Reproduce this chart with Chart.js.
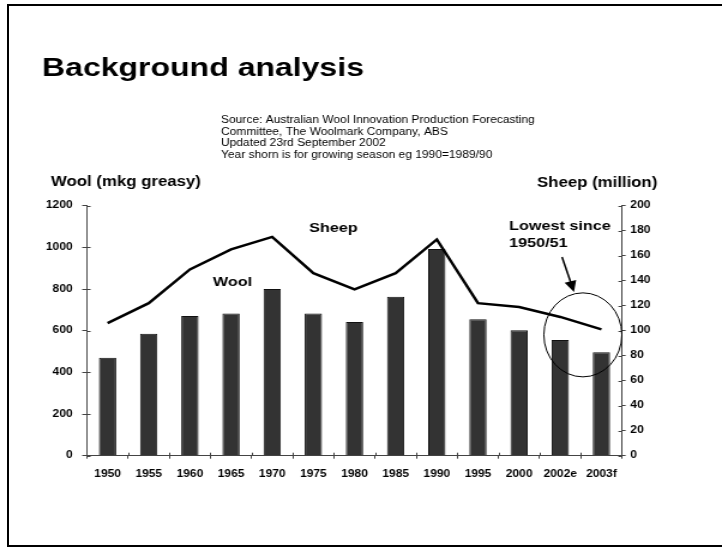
<!DOCTYPE html>
<html>
<head>
<meta charset="utf-8">
<script src="https://cdn.jsdelivr.net/npm/chart.js@4"></script>
<style>
  html, body { margin: 0; padding: 0; background: #fff; overflow: hidden; }
  #frame { position: absolute; left: 7px; top: 4px; width: 740px; height: 539px; border: 2px solid #000; }
  #c { position: absolute; left: 0; top: 0; }
</style>
</head>
<body>
<div id="frame"></div>
<canvas id="c" width="602" height="547" style="width:722px;height:547px"></canvas>
<script>
// data
years = ['1950','1955','1960','1965','1970','1975','1980','1985','1990','1995','2000','2002e','2003f']
wool = [470, 585, 670, 682, 800, 682, 642, 763, 992, 655, 602, 555, 496]      // mkg greasy
sheep = [106, 122, 149, 165, 175, 146, 133, 146, 173, 122, 119, 111, 101]     // million
woolTicks = [0, 200, 400, 600, 800, 1000, 1200]
sheepTicks = [0, 20, 40, 60, 80, 100, 120, 140, 160, 180, 200]
sourceLines = [
  'Source: Australian Wool Innovation Production Forecasting',
  'Committee, The Woolmark Company, ABS',
  'Updated 23rd September 2002',
  'Year shorn is for growing season eg 1990=1989/90'
]

// slide is stretched sideways, so canvas is drawn narrower and scaled by css
K = 722 / 602
FONT = "'Liberation Sans', Arial, sans-serif"
AXIS = '#444'

// ticks that cross the axis lines
crossTicks = {
  id: 'crossTicks',
  afterDraw(chart) {
    const ctx = chart.ctx, a = chart.chartArea
    const x = chart.scales.x, y = chart.scales.y, y1 = chart.scales.y1
    ctx.save()
    ctx.strokeStyle = AXIS
    ctx.lineWidth = 1
    ctx.beginPath()
    woolTicks.forEach(v => { const p = Math.round(y.getPixelForValue(v)) + 0.5; ctx.moveTo(a.left, p); ctx.lineTo(a.left + 3, p) })
    sheepTicks.forEach(v => { const p = Math.round(y1.getPixelForValue(v)) + 0.5; ctx.moveTo(a.right - 3, p); ctx.lineTo(a.right, p) })
    const half = (x.getPixelForValue(1) - x.getPixelForValue(0)) / 2
    for (let i = 1; i < years.length; i++) {
      const p = Math.round(x.getPixelForValue(i) - half) + 0.5
      ctx.moveTo(p, a.bottom); ctx.lineTo(p, a.bottom - 3)
    }
    ctx.stroke()
    ctx.restore()
  }
}

// titles, notes, circle and arrow
notes = {
  id: 'notes',
  afterDraw(chart) {
    const ctx = chart.ctx
    const x = chart.scales.x, y = chart.scales.y
    ctx.save()
    ctx.fillStyle = '#000'
    ctx.textBaseline = 'alphabetic'
    ctx.textAlign = 'left'

    ctx.font = 'bold 26.7px ' + FONT
    ctx.fillText('Background analysis', 42 / K, 76)

    ctx.font = '10px ' + FONT
    sourceLines.forEach((t, i) => ctx.fillText(t, 221 / K, 123 + i * 11.6))

    ctx.font = 'bold 14px ' + FONT
    ctx.fillText('Wool (mkg greasy)', 51 / K, 186)
    ctx.fillText('Sheep (million)', 537 / K, 187)

    ctx.font = 'bold 13.5px ' + FONT
    ctx.fillText('Sheep', 309 / K, 232)
    ctx.fillText('Wool', 213 / K, 286)
    ctx.fillText('Lowest since', 509 / K, 230)
    ctx.fillText('1950/51', 509 / K, 247)

    // circle round the last two years
    const half = (x.getPixelForValue(1) - x.getPixelForValue(0)) / 2
    const cx = x.getPixelForValue(11) + half + 2 / K
    const cy = y.getPixelForValue(580)
    ctx.strokeStyle = '#000'
    ctx.lineWidth = 1
    ctx.beginPath()
    ctx.ellipse(cx, cy, 39 / K, 42, 0, 0, Math.PI * 2)
    ctx.stroke()

    // arrow
    const x0 = 562 / K, y0 = 257, x1 = 574 / K, y1 = 292
    const ang = Math.atan2(y1 - y0, x1 - x0)
    ctx.lineWidth = 1.5
    ctx.beginPath()
    ctx.moveTo(x0, y0)
    ctx.lineTo(x1 - Math.cos(ang) * 8, y1 - Math.sin(ang) * 8)
    ctx.stroke()
    ctx.beginPath()
    ctx.moveTo(x1, y1)
    ctx.lineTo(x1 - Math.cos(ang) * 11 + Math.sin(ang) * 5, y1 - Math.sin(ang) * 11 - Math.cos(ang) * 5)
    ctx.lineTo(x1 - Math.cos(ang) * 11 - Math.sin(ang) * 5, y1 - Math.sin(ang) * 11 + Math.cos(ang) * 5)
    ctx.closePath()
    ctx.fill()
    ctx.restore()
  }
}

tickFont = { family: FONT, size: 10, weight: 'bold' }
plain = v => String(v)

new Chart(document.getElementById('c'), {
  type: 'bar',
  data: {
    labels: years,
    datasets: [
      {
        type: 'line',
        label: 'Sheep',
        data: sheep,
        yAxisID: 'y1',
        borderColor: '#000',
        borderWidth: 2.5,
        pointRadius: 0,
        tension: 0,
        fill: false,
        order: 0
      },
      {
        label: 'Wool',
        data: wool,
        yAxisID: 'y',
        backgroundColor: '#333333',
        borderColor: '#111',
        borderWidth: 1,
        barPercentage: 0.42,
        categoryPercentage: 1,
        order: 1
      }
    ]
  },
  options: {
    responsive: false,
    devicePixelRatio: 1,
    animation: false,
    layout: { padding: { top: 205.7, left: 0, right: 0, bottom: 0 } },
    plugins: { legend: { display: false }, tooltip: { enabled: false } },
    scales: {
      x: {
        grid: { display: true, drawOnChartArea: false, tickLength: 3, color: AXIS, offset: true },
        border: { color: AXIS },
        ticks: { font: tickFont, color: '#000', padding: 10, maxRotation: 0, autoSkip: false },
        afterFit(s) { s.height = 547 - 455.7 }
      },
      y: {
        position: 'left',
        min: 0, max: 1200,
        afterBuildTicks(s) { s.ticks = woolTicks.map(v => ({ value: v })) },
        grid: { drawOnChartArea: false, tickLength: 4, color: AXIS },
        border: { color: AXIS },
        ticks: { font: tickFont, color: '#000', padding: 8, callback: plain },
        afterFit(s) { s.width = 87 / K }
      },
      y1: {
        position: 'right',
        min: 0, max: 200,
        afterBuildTicks(s) { s.ticks = sheepTicks.map(v => ({ value: v })) },
        grid: { drawOnChartArea: false, tickLength: 3, color: AXIS },
        border: { color: AXIS },
        ticks: { font: tickFont, color: '#000', padding: 4, callback: plain },
        afterFit(s) { s.width = 602 - 622 / K }
      }
    }
  },
  plugins: [crossTicks, notes]
})
</script>
</body>
</html>
